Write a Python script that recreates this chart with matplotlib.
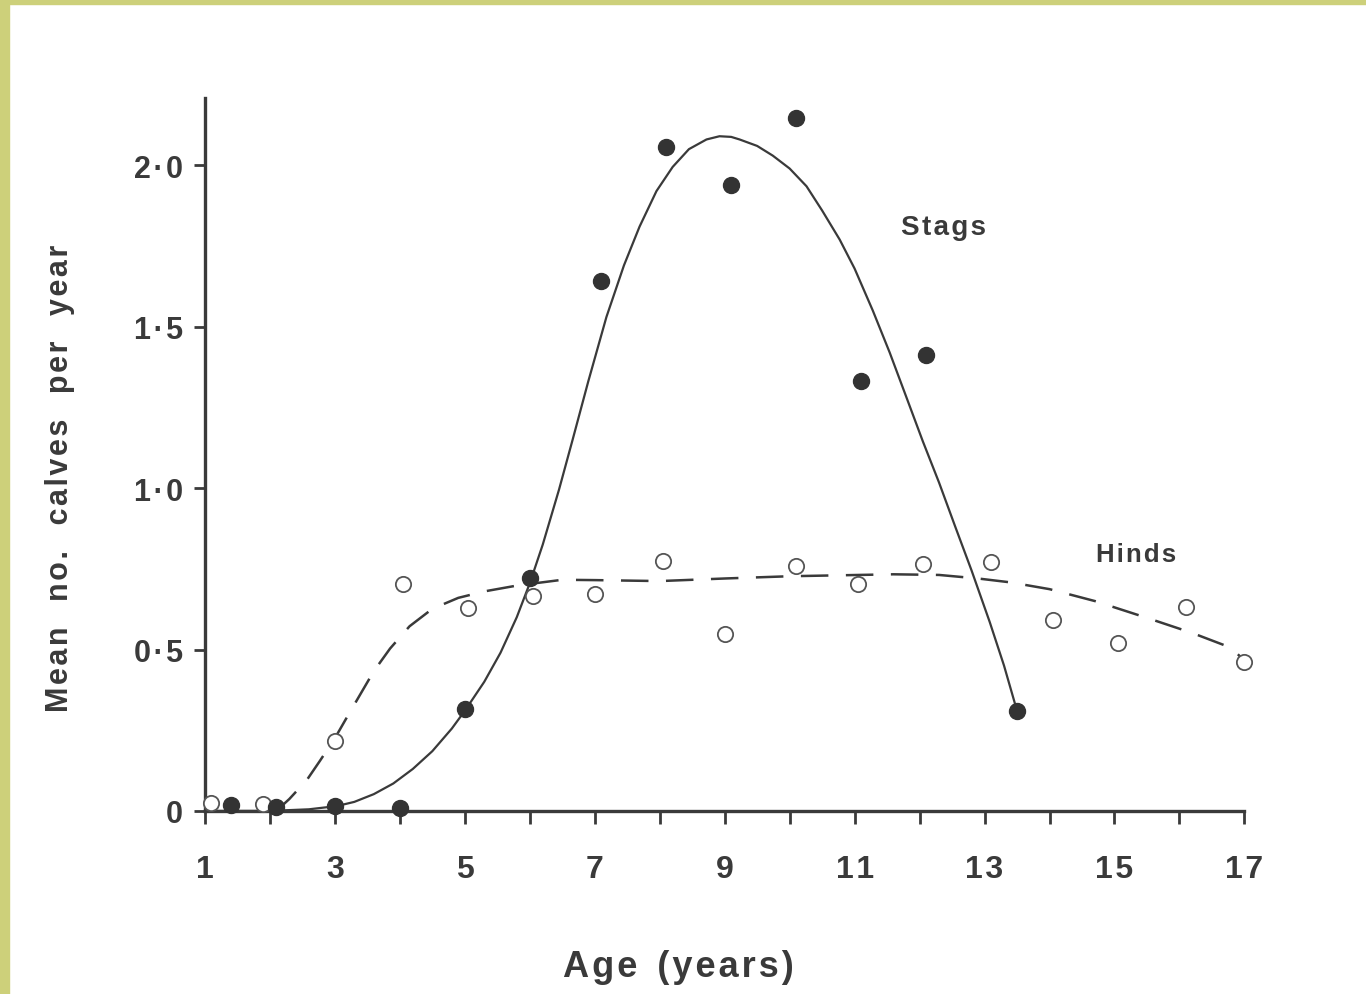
import numpy as np
import matplotlib.pyplot as plt
from matplotlib.patches import Rectangle

# Stags (filled circles)
stags_age = [1.4, 2.1, 3.0, 4.0, 5.0, 6.0, 7.1, 8.1, 9.1, 10.1, 11.1, 12.1, 13.5]
stags_calves = [0.019, 0.012, 0.016, 0.01, 0.316, 0.722, 1.643, 2.056, 1.938, 2.146,
                1.333, 1.411, 0.31]

# Hinds (open circles)
hinds_age = [1.1, 1.9, 3.0, 4.05, 5.05, 6.05, 7.0, 8.05, 9.0, 10.1, 11.05, 12.05, 13.1,
             14.05, 15.05, 16.1, 17.0]
hinds_calves = [0.025, 0.022, 0.217, 0.704, 0.629, 0.667, 0.673, 0.775, 0.549, 0.76, 0.704,
                0.766, 0.772, 0.592, 0.521, 0.633, 0.462]

# fitted curves
stags_fit_x = [1.0, 2.0, 2.6, 3.03, 3.3, 3.6, 3.9, 4.2, 4.5, 4.8, 5.0, 5.3, 5.55, 5.8, 6.0,
               6.2, 6.45, 6.66, 6.9, 7.18, 7.45, 7.69, 7.95, 8.2, 8.45, 8.72, 8.92, 9.1,
               9.23, 9.5, 9.74, 10.0, 10.26, 10.5, 10.77, 11.0, 11.28, 11.54, 11.8, 12.05,
               12.3, 12.55, 12.8, 13.08, 13.3, 13.5]
stags_fit_y = [0.0, 0.0, 0.005, 0.015, 0.028, 0.052, 0.085, 0.13, 0.185, 0.255, 0.31, 0.40,
               0.49, 0.60, 0.705, 0.825, 0.995, 1.15, 1.33, 1.53, 1.69, 1.81, 1.92, 1.995,
               2.05, 2.08, 2.09, 2.088, 2.08, 2.06, 2.03, 1.99, 1.935, 1.86, 1.77, 1.68,
               1.55, 1.42, 1.28, 1.145, 1.017, 0.88, 0.745, 0.585, 0.45, 0.31]

hinds_fit_x = [2.1, 2.3, 2.57, 2.77, 3.0, 3.2, 3.4, 3.6, 3.85, 4.15, 4.5, 4.9, 5.3, 5.8,
               6.5, 7.0, 8.0, 9.0, 10.0, 10.8, 11.6, 12.3, 12.9, 13.4, 14.0, 14.7, 15.5,
               16.2, 16.8, 17.0]
hinds_fit_y = [0.0, 0.037, 0.096, 0.155, 0.225, 0.295, 0.364, 0.433, 0.503, 0.572, 0.626,
               0.66, 0.68, 0.698, 0.716, 0.715, 0.712, 0.72, 0.727, 0.73, 0.733, 0.731, 0.72,
               0.708, 0.687, 0.65, 0.598, 0.551, 0.505, 0.465]

x_ticks = list(range(1, 18))
x_labels = [str(t) if t % 2 == 1 else '' for t in x_ticks]
y_ticks = [0, 0.5, 1.0, 1.5, 2.0]
y_labels = ['0', '0·5', '1·0', '1·5', '2·0']


def spaced(s):
    # the printed figure uses loosely tracked lettering
    return '\u200a'.join(s)


ink = '#3a3a3a'
plt.rcParams['font.family'] = ['Liberation Sans', 'DejaVu Sans']
plt.rcParams['font.weight'] = 'bold'

fig = plt.figure(figsize=(13.66, 9.95), dpi=100)
fig.patch.set_facecolor('white')
# scanned page border
fig.patches.append(Rectangle((0, 0), 9 / 1366, 1, transform=fig.transFigure,
                             color='#cdd07a', zorder=0))
fig.patches.append(Rectangle((0, 1 - 5 / 995), 1, 5 / 995, transform=fig.transFigure,
                             color='#cdd07a', zorder=0))

ax = fig.add_axes([0.150, 0.184, 0.761, 0.717])

ax.plot(stags_fit_x, stags_fit_y, '-', color=ink, lw=1.6, clip_on=False,
        solid_joinstyle='round')
ax.plot(hinds_fit_x, hinds_fit_y, '--', color=ink, lw=1.8, dashes=(11, 7), clip_on=False)

ax.plot(hinds_age, hinds_calves, 'o', mfc='white', mec='#555555', mew=1.3, ms=11,
        clip_on=False, zorder=4)
ax.plot(stags_age, stags_calves, 'o', color='#333333', ms=11.5, clip_on=False, zorder=5)

ax.text(11.72, 1.81, spaced('Stags'), fontsize=20, color=ink, ha='left', va='center')
ax.text(14.71, 0.797, spaced('Hinds'), fontsize=18.5, color=ink, ha='left', va='center')

ax.set_xlim(1, 17)
ax.set_ylim(0, 2.21)
ax.set_xticks(x_ticks)
ax.set_xticklabels([spaced(l) for l in x_labels])
ax.set_yticks(y_ticks)
ax.set_yticklabels([spaced(l) for l in y_labels])

for s in ['top', 'right']:
    ax.spines[s].set_visible(False)
for s in ['left', 'bottom']:
    ax.spines[s].set_linewidth(2.4)
    ax.spines[s].set_color(ink)

ax.tick_params(axis='x', direction='out', length=9, width=2, color=ink,
               labelsize=23, labelcolor=ink, pad=22)
ax.tick_params(axis='y', direction='out', length=8, width=2, color=ink,
               labelsize=22, labelcolor=ink, pad=8)

ax.set_xlabel(spaced('Age') + '  ' + spaced('(years)'), fontsize=26, color=ink,
              fontweight='bold', labelpad=47)
ax.xaxis.label.set_x(0.455)
ylab = '   '.join(spaced(w) for w in ['Mean', 'no.', 'calves', 'per', 'year'])
ax.set_ylabel(ylab, fontsize=22, color=ink, fontweight='bold', labelpad=42)
ax.yaxis.label.set_y(0.468)

plt.savefig('out.png', dpi=100)
